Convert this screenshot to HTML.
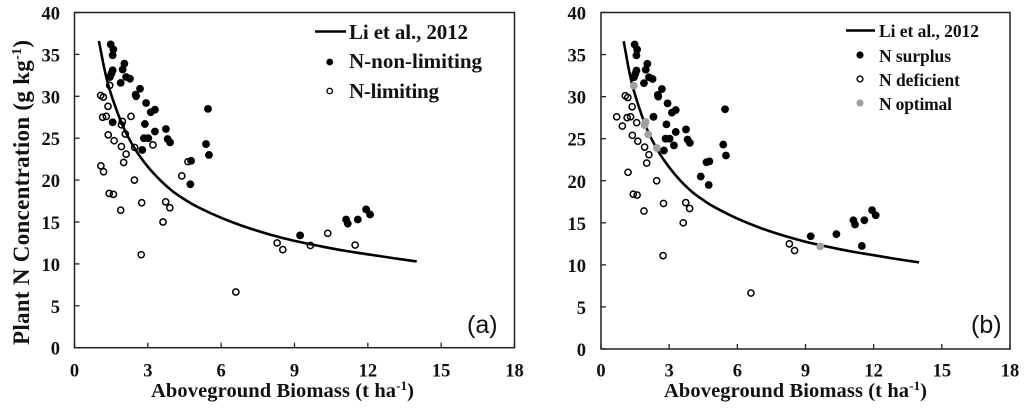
<!DOCTYPE html>
<html>
<head>
<meta charset="utf-8">
<style>
html,body{margin:0;padding:0;background:#fff;width:1024px;height:411px;overflow:hidden}
svg{display:block;filter:blur(0.35px)}
text{font-family:"Liberation Serif",serif;font-weight:bold;fill:#111}
</style>
</head>
<body>
<svg id="chart" width="1024" height="411" viewBox="0 0 1024 411" xmlns="http://www.w3.org/2000/svg">
<text transform="translate(29,345) rotate(-90)" font-size="23" textLength="305" lengthAdjust="spacing">Plant N Concentration (g kg<tspan dy="-8" font-size="14">-1</tspan><tspan dy="8">)</tspan></text>
<text x="151" y="397" font-size="20.5" textLength="263" lengthAdjust="spacing">Aboveground Biomass (t ha<tspan dy="-7" font-size="13">-1</tspan><tspan dy="7">)</tspan></text>
<text x="664" y="397" font-size="20.5" textLength="263" lengthAdjust="spacing">Aboveground Biomass (t ha<tspan dy="-7" font-size="13">-1</tspan><tspan dy="7">)</tspan></text>

<g>
<line x1="315" y1="31.5" x2="346" y2="31.5" stroke="#000" stroke-width="2.5"/>
<text x="349" y="39" font-size="21" textLength="119" lengthAdjust="spacing">Li et al., 2012</text>
<circle cx="329.7" cy="62" r="3.4" fill="#000"/>
<text x="349" y="68" font-size="21" textLength="133" lengthAdjust="spacing">N-non-limiting</text>
<circle cx="329.7" cy="91" r="2.7" fill="#fff" stroke="#000" stroke-width="1.4"/>
<text x="349" y="98" font-size="21" textLength="90" lengthAdjust="spacing">N-limiting</text>
</g>

<g>
<line x1="846" y1="30.5" x2="875" y2="30.5" stroke="#000" stroke-width="2.5"/>
<text x="879" y="37" font-size="17.5" textLength="100" lengthAdjust="spacing">Li et al., 2012</text>
<circle cx="860" cy="55" r="3.6" fill="#000"/>
<text x="879" y="62" font-size="17.5" textLength="72" lengthAdjust="spacing">N surplus</text>
<circle cx="860" cy="79" r="2.9" fill="#fff" stroke="#000" stroke-width="1.4"/>
<text x="879" y="86" font-size="17.5" textLength="81" lengthAdjust="spacing">N deficient</text>
<circle cx="860" cy="103" r="3.6" fill="#a0a0a0"/>
<text x="879" y="110" font-size="17.5" textLength="73" lengthAdjust="spacing">N optimal</text>
</g>

<text x="467" y="333" font-size="25" style="font-family:'Liberation Sans',sans-serif;font-weight:normal">(a)</text>
<text x="971" y="333" font-size="25" style="font-family:'Liberation Sans',sans-serif;font-weight:normal">(b)</text>
</svg>
<script>
const xTicks = [0, 3, 6, 9, 12, 15, 18];
const yTicks = [0, 5, 10, 15, 20, 25, 30, 35, 40];

const curveX = [1, 1.25, 1.5, 2, 2.5, 3, 3.5, 4, 4.5, 5, 6, 7, 8, 9, 10, 11, 12, 13, 14];
const curveY = [36.6, 32.9, 30.2, 26.3, 23.6, 21.6, 20, 18.7, 17.7, 16.85, 15.5, 14.4, 13.5, 12.75, 12.15, 11.6, 11.15, 10.7, 10.3];

const nonLimitingX = [1.48, 1.59, 1.56, 1.56, 1.51, 1.45, 2.04, 1.97, 1.89, 2.11, 2.27, 2.68, 2.5, 2.52, 2.93, 3.29, 3.12, 5.46, 1.56, 2.88, 3.74, 3.29, 2.84, 3.02, 3.81, 3.91, 5.38, 2.77, 5.5, 4.77, 4.74, 9.23, 11.11, 11.18, 11.59, 11.93, 12.09];
const nonLimitingY = [36.2, 35.6, 34.9, 33.1, 32.7, 32.3, 33.9, 33.2, 31.6, 32.3, 32.1, 30.9, 30.2, 30, 29.2, 28.4, 28.1, 28.5, 26.9, 26.7, 26.1, 25.8, 25, 25, 24.9, 24.5, 24.3, 23.6, 23, 22.3, 19.5, 13.4, 15.3, 14.8, 15.3, 16.5, 15.9];

const limitingX = [1.07, 1.18, 1.37, 1.44, 1.15, 1.3, 2.31, 1.96, 1.92, 2.08, 1.38, 1.62, 1.92, 2.46, 3.21, 2.11, 2.01, 4.64, 1.08, 1.19, 2.45, 4.39, 1.42, 1.59, 2.75, 3.73, 3.9, 1.89, 3.62, 2.73, 6.6, 8.29, 8.52, 9.65, 10.36, 11.48];
const limitingY = [30.1, 29.9, 28.8, 31.3, 27.5, 27.6, 27.6, 27, 26.6, 25.5, 25.4, 24.7, 24, 23.9, 24.2, 23.1, 22.1, 22.2, 21.7, 21, 20, 20.5, 18.4, 18.3, 17.3, 17.4, 16.7, 16.4, 15, 11.1, 6.65, 12.5, 11.7, 12.2, 13.65, 12.25];

const surplusX = [1.48, 1.59, 1.56, 1.56, 1.51, 1.45, 2.04, 1.97, 1.89, 2.11, 2.27, 2.68, 2.5, 2.52, 2.93, 3.29, 3.12, 5.46, 2.31, 2.88, 3.74, 3.29, 2.84, 3.02, 3.81, 3.91, 5.38, 2.77, 5.5, 4.77, 4.74, 9.23, 11.11, 11.18, 11.59, 11.93, 12.09, 3.21, 4.64, 4.39, 10.36, 11.48];
const surplusY = [36.2, 35.6, 34.9, 33.1, 32.7, 32.3, 33.9, 33.2, 31.6, 32.3, 32.1, 30.9, 30.2, 30, 29.2, 28.4, 28.1, 28.5, 27.6, 26.7, 26.1, 25.8, 25, 25, 24.9, 24.5, 24.3, 23.6, 23, 22.3, 19.5, 13.4, 15.3, 14.8, 15.3, 16.5, 15.9, 24.2, 22.2, 20.5, 13.65, 12.25];

const deficientX = [1.07, 1.18, 1.37, 0.69, 1.15, 1.3, 0.94, 1.57, 1.38, 1.62, 1.92, 2.11, 2.01, 1.19, 2.45, 1.42, 1.59, 2.75, 3.73, 3.9, 1.89, 3.62, 2.73, 6.6, 8.29, 8.52];
const deficientY = [30.1, 29.9, 28.8, 27.6, 27.5, 27.6, 26.5, 26.9, 25.4, 24.7, 24, 23.1, 22.1, 21, 20, 18.4, 18.3, 17.3, 17.4, 16.7, 16.4, 15, 11.1, 6.65, 12.5, 11.7];

const optimalX = [1.44, 1.96, 1.92, 2.08, 2.46, 9.65];
const optimalY = [31.3, 27, 26.6, 25.5, 23.9, 12.2];

const NS = 'http://www.w3.org/2000/svg';
const root = document.getElementById('chart');

function make(tag, attrs, parent) {
  const el = document.createElementNS(NS, tag);
  for (const k in attrs) el.setAttribute(k, attrs[k]);
  parent.appendChild(el);
  return el;
}

function smoothPath(pts) {
  let d = 'M' + pts[0][0].toFixed(1) + ' ' + pts[0][1].toFixed(1);
  for (let i = 0; i < pts.length - 1; i++) {
    const p0 = pts[Math.max(i - 1, 0)];
    const p1 = pts[i];
    const p2 = pts[i + 1];
    const p3 = pts[Math.min(i + 2, pts.length - 1)];
    const c1x = p1[0] + (p2[0] - p0[0]) / 6;
    const c1y = p1[1] + (p2[1] - p0[1]) / 6;
    const c2x = p2[0] - (p3[0] - p1[0]) / 6;
    const c2y = p2[1] - (p3[1] - p1[1]) / 6;
    d += 'C' + c1x.toFixed(1) + ' ' + c1y.toFixed(1) + ' ' + c2x.toFixed(1) + ' ' + c2y.toFixed(1) + ' ' + p2[0].toFixed(1) + ' ' + p2[1].toFixed(1);
  }
  return d;
}

function drawPanel(p) {
  const sx = v => p.left + (v - 0) / 18 * (p.right - p.left);
  const sy = v => p.bottom - (v - 0) / 40 * (p.bottom - p.top);

  const g = make('g', {}, root);
  
  

  const frame = make('rect', { x: p.left, y: p.top, width: p.right - p.left, height: p.bottom - p.top, fill: 'none', stroke: '#222', 'stroke-width': 1.5 }, g);
  
  

  yTicks.forEach(v => {
    const t = make('line', { x1: p.left, x2: p.left + 5, y1: sy(v), y2: sy(v), stroke: '#222', 'stroke-width': 1.3 }, g);
    
    
    const l = make('text', { x: p.yLabelX, y: sy(v) + 7, 'font-size': 18.5, 'text-anchor': 'end' }, g);
    
    
    l.textContent = v;
  });

  xTicks.forEach(v => {
    const t = make('line', { x1: sx(v), x2: sx(v), y1: p.bottom, y2: p.bottom - 5, stroke: '#222', 'stroke-width': 1.3 }, g);
    
    
    const l = make('text', { x: sx(v), y: 376.5, 'font-size': 18.5, 'text-anchor': 'middle' }, g);
    
    
    l.textContent = v;
  });

  const pts = curveX.map((x, i) => [sx(x), sy(curveY[i])]);
  const curve = make('path', { d: smoothPath(pts), fill: 'none', stroke: '#000', 'stroke-width': 2.6 }, g);
  
  

  p.series.forEach(s => {
    s.xs.forEach((x, i) => {
      const c = make('circle', { cx: sx(x), cy: sy(s.ys[i]), r: s.r, fill: s.fill }, g);
      if (s.stroke) {
        c.setAttribute('stroke', s.stroke);
        c.setAttribute('stroke-width', 1.5);
        c.setAttribute('fill-opacity', 0);
      }
      
      
    });
  });
}

drawPanel({
  id: 'a', left: 74.5, right: 514.5, top: 12.5, bottom: 347.7, yLabelX: 60,
  series: [
    { name: 'n-non-limiting', xs: nonLimitingX, ys: nonLimitingY, r: 3.9, fill: '#000' },
    { name: 'n-limiting', xs: limitingX, ys: limitingY, r: 3.1, fill: '#fff', stroke: '#000' }
  ]
});

drawPanel({
  id: 'b', left: 601, right: 1010, top: 12.5, bottom: 349, yLabelX: 586,
  series: [
    { name: 'n-surplus', xs: surplusX, ys: surplusY, r: 3.9, fill: '#000' },
    { name: 'n-deficient', xs: deficientX, ys: deficientY, r: 3.1, fill: '#fff', stroke: '#000' },
    { name: 'n-optimal', xs: optimalX, ys: optimalY, r: 3.9, fill: '#a0a0a0' }
  ]
});
</script>
</body>
</html>
